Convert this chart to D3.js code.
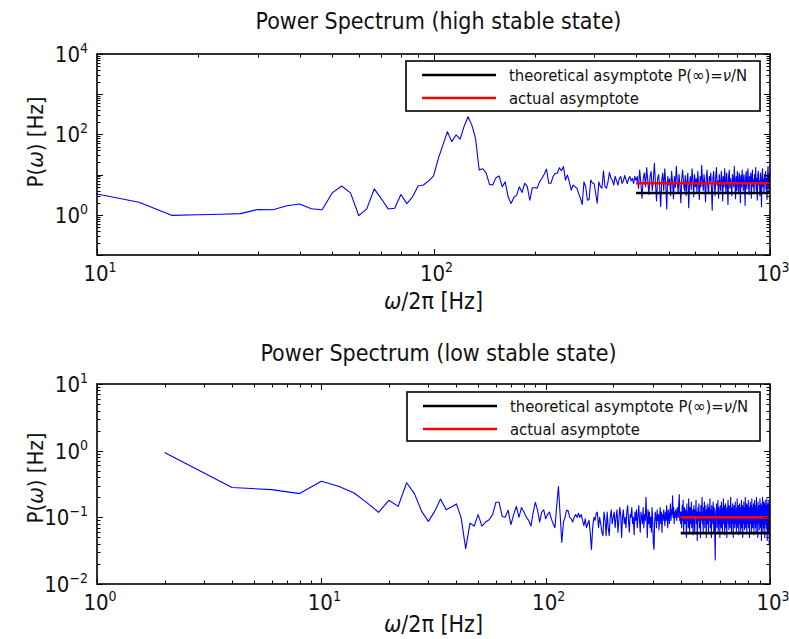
<!DOCTYPE html>
<html>
<head>
<meta charset="utf-8">
<script src="https://cdn.jsdelivr.net/npm/d3@7"></script>
<style>
  html, body { margin: 0; padding: 0; background: #fff; }
  svg { display: block; }
  text { font-family: "Liberation Sans Narrow", "DejaVu Sans Condensed", "Open Sans", sans-serif; fill: #111; }
</style>
</head>
<body>
<svg id="chart" width="789" height="639"></svg>
<script>
// ---- High stable state: power per frequency bin (bin width 10/3 Hz, bins 3..300) ----
const highBinStart = 3;
const highBinWidth = 10 / 3;
const highPower = [
  3.3, 2.05, 0.97, 1.0, 1.03, 1.07, 1.35, 1.34, 1.68, 1.86,
  1.42, 1.34, 3.5, 5.2, 3.5, 0.95, 1.4, 4.4, 2.5, 1.4,
  1.45, 3.2, 1.9, 2.8, 5.2, 5.5, 7.0, 9.2, 25, 55,
  117, 66, 97, 76, 160, 275, 170, 80, 13, 14,
  11, 5.7, 5.5, 8.4, 9.2, 5.0, 6.6, 2.8, 1.9, 2.7,
  3.1, 5.0, 3.6, 6.1, 5.0, 2.3, 4.7, 4.7, 4.6, 6.7,
  8.1, 10.2, 13.8, 6.1, 6.1, 8.9, 10.8, 10.8, 14.8, 12.5,
  15.8, 7.3, 9.8, 6.6, 4.1, 5.5, 5.0, 4.6, 3.4, 2.6,
  1.8, 6.6, 5.0, 2.3, 2.4, 7.3, 6.2, 6.0, 3.4, 1.95,
  6.6, 5.0, 4.6, 12.5, 5.0, 4.6, 6.6, 11.3, 8.1, 7.3,
  5.5, 9, 7, 5.5, 8, 9, 6, 7, 9.5, 7.5,
  6, 8, 9, 7, 8, 6, 9, 7,
  9, 4.5, 13, 6, 2.6, 8, 11, 5, 15, 7,
  3.2, 9, 12, 4, 7, 19, 6, 2.2, 8, 10,
  5, 1.6, 7, 11, 4, 14, 6, 1.4, 9, 5.5,
  8, 3, 12, 6.5, 2.5, 9, 4.8, 16, 7, 3.5,
  10, 5.5, 2, 8, 13, 6, 4, 9.5, 3, 7,
  11, 1.5, 6, 9, 4.2, 14, 7.5, 2.8, 10, 5,
  8, 3.6, 12, 6, 2.4, 9, 5, 17, 7, 4,
  10, 6, 2.1, 8.5, 13, 5, 3.3, 9, 7, 11,
  4.5, 1.3, 8, 12, 6, 3, 9.5, 15, 5.5, 7,
  2.6, 10, 6.5, 4, 12, 8, 2.2, 9, 5, 14,
  7, 3.4, 11, 6, 1.8, 9, 13, 4.6, 8, 6,
  3, 10, 7.5, 5, 16, 6, 2.5, 9, 4, 12,
  6.5, 3.8, 11, 8, 2, 9.5, 5, 13, 7, 4,
  10, 6, 1.7, 8.5, 12, 4.4, 7, 14, 5.5, 3.2,
  9, 6.5, 11, 2.6, 8, 13, 5, 7.5, 3.6, 10,
  6, 15, 4, 8, 2.3, 9.5, 12, 5.5, 7, 3,
  11, 6.5, 1.6, 9, 14, 5, 7.5, 3.4, 10, 6,
  12, 4.2, 8, 2.4, 9.5, 16, 6, 3.5, 11, 7
];
const highTheory = 3.5;      // P(inf) = nu/N
const highActual = 6.1;      // mean level of the tail
const highAsymFrom = [400, 1000];

// ---- Low stable state: power per frequency bin (bin width 2 Hz, bins 1..500) ----
const lowBinStart = 1;
const lowBinWidth = 2;
const lowPower = [
  0.94, 0.28, 0.26, 0.227, 0.347, 0.29, 0.232, 0.165, 0.119, 0.18,
  0.146, 0.33, 0.227, 0.123, 0.087, 0.123, 0.188, 0.13, 0.143, 0.159,
  0.098, 0.034, 0.082, 0.074, 0.11, 0.074, 0.085, 0.092, 0.11, 0.168,
  0.168, 0.103, 0.1, 0.128, 0.078, 0.11, 0.146, 0.1, 0.14, 0.12,
  0.1, 0.09, 0.074, 0.12, 0.168, 0.128, 0.085, 0.12, 0.13, 0.095,
  0.11, 0.12, 0.095, 0.08, 0.07, 0.15, 0.29, 0.11, 0.042, 0.085,
  0.1, 0.128, 0.125, 0.1, 0.095, 0.085, 0.1, 0.11, 0.1, 0.115,
  0.1, 0.11, 0.09, 0.075, 0.095, 0.07, 0.08, 0.09, 0.06, 0.033,
  0.07, 0.1, 0.09, 0.115, 0.12, 0.07, 0.1, 0.08, 0.06, 0.053,
  0.12, 0.09, 0.053, 0.12, 0.07, 0.053, 0.1, 0.13, 0.08, 0.1,
  0.12, 0.07, 0.1, 0.13, 0.06, 0.09, 0.14, 0.11, 0.05, 0.1,
  0.13, 0.08, 0.1, 0.07, 0.12, 0.15, 0.09, 0.06, 0.11, 0.1,
  0.14, 0.08, 0.1, 0.055, 0.12, 0.09, 0.13, 0.07, 0.1, 0.15,
  0.09, 0.06, 0.12, 0.1, 0.08, 0.14, 0.07, 0.11, 0.09, 0.2,
  0.1, 0.05, 0.13, 0.08, 0.12, 0.07, 0.1, 0.06, 0.14, 0.09,
  0.04, 0.033, 0.08, 0.12, 0.1, 0.07, 0.13, 0.09, 0.11, 0.065,
  0.1, 0.14, 0.08, 0.12, 0.06, 0.11, 0.09, 0.13, 0.1, 0.075,
  0.12, 0.09, 0.15, 0.1, 0.07, 0.13, 0.11, 0.08, 0.12, 0.16,
  0.09, 0.13, 0.11, 0.21, 0.1, 0.14, 0.08, 0.12, 0.1, 0.13,
  0.11, 0.09, 0.14, 0.12, 0.1, 0.16, 0.22, 0.09, 0.12, 0.08,
  0.12, 0.07, 0.15, 0.09, 0.18, 0.06, 0.11, 0.14, 0.08, 0.13,
  0.1, 0.05, 0.16, 0.09, 0.12, 0.07, 0.19, 0.1, 0.06, 0.14,
  0.08, 0.12, 0.17, 0.07, 0.1, 0.13, 0.055, 0.11, 0.15, 0.09,
  0.06, 0.13, 0.1, 0.18, 0.08, 0.12, 0.045, 0.11, 0.14, 0.09,
  0.16, 0.07, 0.12, 0.1, 0.05, 0.15, 0.09, 0.13, 0.2, 0.08,
  0.11, 0.06, 0.14, 0.1, 0.17, 0.07, 0.12, 0.09, 0.15, 0.05,
  0.13, 0.1, 0.08, 0.16, 0.11, 0.06, 0.14, 0.09, 0.12, 0.19,
  0.07, 0.1, 0.13, 0.05, 0.15, 0.09, 0.12, 0.08, 0.17, 0.1,
  0.06, 0.14, 0.11, 0.045, 0.023, 0.09, 0.13, 0.1, 0.16, 0.07,
  0.12, 0.09, 0.18, 0.06, 0.11, 0.14, 0.08, 0.12, 0.05, 0.15,
  0.1, 0.13, 0.07, 0.17, 0.09, 0.12, 0.06, 0.14, 0.1, 0.19,
  0.08, 0.11, 0.15, 0.055, 0.12, 0.09, 0.16, 0.07, 0.13, 0.1,
  0.05, 0.14, 0.09, 0.12, 0.18, 0.08, 0.11, 0.065, 0.15, 0.1,
  0.13, 0.07, 0.12, 0.2, 0.09, 0.1, 0.06, 0.14, 0.11, 0.08,
  0.16, 0.1, 0.05, 0.13, 0.09, 0.15, 0.12, 0.07, 0.11, 0.17,
  0.08, 0.12, 0.1, 0.06, 0.14, 0.09, 0.19, 0.11, 0.07, 0.13,
  0.1, 0.15, 0.055, 0.12, 0.09, 0.16, 0.08, 0.11, 0.14, 0.06,
  0.13, 0.1, 0.18, 0.07, 0.12, 0.09, 0.15, 0.05, 0.11, 0.14,
  0.08, 0.17, 0.1, 0.12, 0.065, 0.14, 0.09, 0.2, 0.11, 0.07,
  0.13, 0.1, 0.16, 0.06, 0.12, 0.09, 0.15, 0.08, 0.11, 0.18,
  0.07, 0.13, 0.1, 0.14, 0.05, 0.12, 0.09, 0.17, 0.1, 0.08,
  0.15, 0.11, 0.06, 0.13, 0.19, 0.09, 0.12, 0.07, 0.14, 0.1,
  0.08, 0.16, 0.11, 0.055, 0.13, 0.1, 0.18, 0.09, 0.12, 0.07,
  0.15, 0.1, 0.13, 0.06, 0.2, 0.11, 0.08, 0.14, 0.09, 0.12,
  0.05, 0.17, 0.1, 0.13, 0.08, 0.15, 0.11, 0.065, 0.14, 0.1,
  0.19, 0.09, 0.12, 0.07, 0.16, 0.1, 0.13, 0.045, 0.11, 0.15,
  0.08, 0.12, 0.2, 0.1, 0.06, 0.14, 0.09, 0.17, 0.11, 0.07,
  0.13, 0.1, 0.16, 0.05, 0.12, 0.18, 0.09, 0.14, 0.08, 0.11,
  0.15, 0.07, 0.12, 0.19, 0.1, 0.045, 0.13, 0.09, 0.16, 0.06,
  0.11, 0.14, 0.08, 0.18, 0.1, 0.04, 0.12, 0.15, 0.07, 0.1
];
const lowTheory = 0.058;
const lowActual = 0.1;
const lowAsymFrom = [400, 1000];

// ---- Axis ticks (labelled decades) ----
const highXLabels = [10, 100, 1000];
const highYLabels = [1, 100, 10000];
const lowXLabels = [1, 10, 100, 1000];
const lowYLabels = [0.01, 0.1, 1, 10];

const legendLabels = ["theoretical asymptote P(\u221E)=", "actual asymptote"];
const seriesColors = { data: "#0000ff", theory: "#000000", actual: "#ff0000" };

// ----------------------------------------------------------------
const svg = d3.select("#chart");

function toSeries(values, binStart, binWidth) {
  return values.map((p, i) => ({ f: (binStart + i) * binWidth, p }));
}

function drawPanel(cfg) {
  const { x, y, id } = cfg;
  const [x0, x1] = x.range();
  const [y1, y0] = y.range();
  const g = svg.append("g");

  g.append("clipPath").attr("id", id)
    .append("rect").attr("x", x0).attr("y", y0).attr("width", x1 - x0).attr("height", y1 - y0);

  // title
  g.append("text").attr("x", (x0 + x1) / 2 + 5).attr("y", cfg.titleY)
    .attr("text-anchor", "middle").attr("font-size", 23).text(cfg.title);

  // data line
  const line = d3.line().x(d => x(d.f)).y(d => y(d.p));
  g.append("path").datum(cfg.series)
    .attr("clip-path", `url(#${id})`)
    .attr("d", line).attr("fill", "none")
    .attr("stroke", seriesColors.data).attr("stroke-width", 1.1)
    .attr("stroke-linejoin", "round");

  // asymptotes
  const asym = [
    { v: cfg.theory, c: seriesColors.theory },
    { v: cfg.actual, c: seriesColors.actual }
  ];
  g.selectAll(null).data(asym).enter().append("line")
    .attr("x1", x(cfg.asymRange[0])).attr("x2", x(cfg.asymRange[1]))
    .attr("y1", d => y(d.v)).attr("y2", d => y(d.v))
    .attr("stroke", d => d.c).attr("stroke-width", 2.6);

  // ticks on all four sides, pointing inward
  const isDecade = v => Math.abs(Math.log10(v) - Math.round(Math.log10(v))) < 1e-9;
  const xt = x.ticks();
  const yt = y.ticks();
  const tk = g.append("g").attr("stroke", "#000").attr("stroke-width", 1);
  xt.forEach(v => {
    const L = isDecade(v) ? 6 : 3.5;
    const px = Math.round(x(v)) + 0.5;
    tk.append("line").attr("x1", px).attr("x2", px).attr("y1", y1).attr("y2", y1 - L);
    tk.append("line").attr("x1", px).attr("x2", px).attr("y1", y0).attr("y2", y0 + L);
  });
  yt.forEach(v => {
    const L = isDecade(v) ? 6 : 3.5;
    const py = Math.round(y(v)) + 0.5;
    tk.append("line").attr("y1", py).attr("y2", py).attr("x1", x0).attr("x2", x0 + L);
    tk.append("line").attr("y1", py).attr("y2", py).attr("x1", x1).attr("x2", x1 - L);
  });

  // frame
  g.append("rect").attr("x", x0).attr("y", y0).attr("width", x1 - x0).attr("height", y1 - y0)
    .attr("fill", "none").attr("stroke", "#000").attr("stroke-width", 1.6);

  // tick labels as 10^k
  const pow = v => Math.round(Math.log10(v));
  const sup = s => s.replace("-", "\u2212");
  cfg.xLabels.forEach(v => {
    const t = g.append("text").attr("x", x(v) + 3).attr("y", y1 + 26)
      .attr("text-anchor", "middle").attr("font-size", 22);
    t.append("tspan").text("10");
    t.append("tspan").attr("font-size", 14).attr("dy", -9).text(sup(String(pow(v))));
  });
  cfg.yLabels.forEach(v => {
    const t = g.append("text").attr("x", x0 - 9).attr("y", y(v) + 8)
      .attr("text-anchor", "end").attr("font-size", 22);
    t.append("tspan").text("10");
    t.append("tspan").attr("font-size", 14).attr("dy", -9).text(sup(String(pow(v))));
  });

  // axis titles
  const xl = g.append("text").attr("x", (x0 + x1) / 2).attr("y", cfg.xTitleY)
    .attr("text-anchor", "middle").attr("font-size", 23);
  xl.append("tspan").attr("font-style", "italic").text("\u03C9");
  xl.append("tspan").text("/2\u03C0 [Hz]");

  const yl = g.append("text")
    .attr("transform", `translate(${cfg.yTitleX},${cfg.yTitleY}) rotate(-90)`)
    .attr("text-anchor", "middle").attr("font-size", 22);
  yl.append("tspan").text("P(");
  yl.append("tspan").attr("font-style", "italic").text("\u03C9");
  yl.append("tspan").text(")  [Hz]");

  // legend
  const lg = g.append("g");
  const [lx, ly, lw, lh] = cfg.legendBox;
  lg.append("rect").attr("x", lx).attr("y", ly).attr("width", lw).attr("height", lh)
    .attr("fill", "#fff").attr("stroke", "#000").attr("stroke-width", 1.6);
  const rows = [
    { c: seriesColors.theory, label: legendLabels[0], tail: true },
    { c: seriesColors.actual, label: legendLabels[1], tail: false }
  ];
  rows.forEach((r, i) => {
    const ry = ly + 14 + i * 23;
    lg.append("line").attr("x1", lx + 16).attr("x2", lx + 90).attr("y1", ry).attr("y2", ry)
      .attr("stroke", r.c).attr("stroke-width", 2.6);
    const t = lg.append("text").attr("x", lx + 103).attr("y", ry + 6).attr("font-size", 16.5);
    t.append("tspan").text(r.label);
    if (r.tail) {
      t.append("tspan").attr("font-style", "italic").text("\u03BD");
      t.append("tspan").text("/N");
    }
  });
}

// high stable state panel
drawPanel({
  id: "clip-high",
  title: "Power Spectrum (high stable state)",
  titleY: 29,
  x: d3.scaleLog().domain([10, 1000]).range([97, 770]),
  y: d3.scaleLog().domain([0.1, 10000]).range([255, 54]),
  series: toSeries(highPower, highBinStart, highBinWidth),
  theory: highTheory, actual: highActual, asymRange: highAsymFrom,
  xLabels: highXLabels, yLabels: highYLabels,
  xTitleY: 309, yTitleX: 43, yTitleY: 142,
  legendBox: [406, 61, 354, 50]
});

// low stable state panel
drawPanel({
  id: "clip-low",
  title: "Power Spectrum (low stable state)",
  titleY: 361,
  x: d3.scaleLog().domain([1, 1000]).range([97, 770]),
  y: d3.scaleLog().domain([0.01, 10]).range([584, 384]),
  series: toSeries(lowPower, lowBinStart, lowBinWidth),
  theory: lowTheory, actual: lowActual, asymRange: lowAsymFrom,
  xLabels: lowXLabels, yLabels: lowYLabels,
  xTitleY: 632, yTitleX: 43, yTitleY: 478,
  legendBox: [407, 392, 353, 49]
});
</script>
</body>
</html>
